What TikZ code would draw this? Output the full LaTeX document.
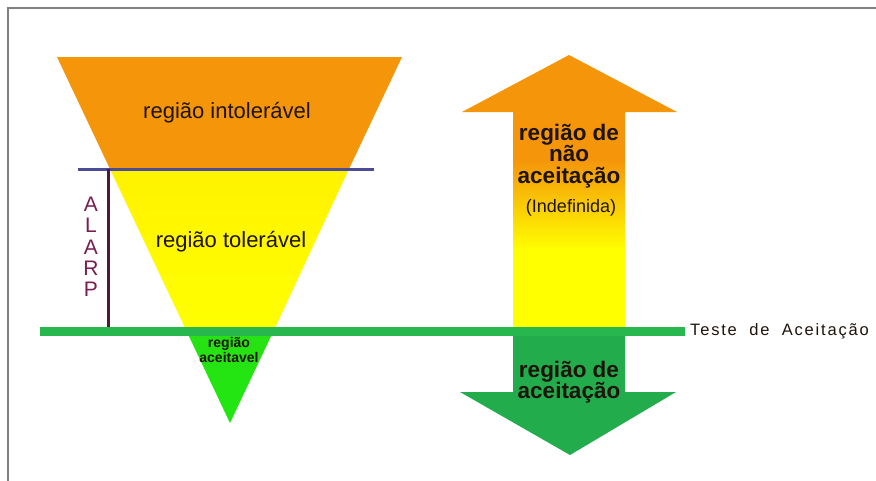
\documentclass[tikz,border=0pt]{standalone}
\usepackage{fontspec}
\setmainfont{Liberation Sans}
\definecolor{orng}{RGB}{245,150,10}
\definecolor{yel}{RGB}{255,255,0}
\definecolor{brgreen}{RGB}{40,225,20}
\definecolor{lgreen}{RGB}{40,182,78}
\definecolor{dgreen}{RGB}{34,172,76}
\definecolor{bline}{RGB}{75,75,150}
\definecolor{alarpline}{RGB}{80,25,60}
\definecolor{alarptext}{RGB}{120,30,80}
\definecolor{frame}{RGB}{128,128,128}
\definecolor{txt}{RGB}{30,20,10}
\tikzset{
  lbl/.style={text=txt, inner sep=0pt, align=center},
  bigbold/.style={lbl, font=\fontsize{22.5}{21.5}\selectfont\bfseries},
}
\begin{document}
\begin{tikzpicture}[x=1pt,y=-1pt]
\useasboundingbox (0,0) rectangle (876,480);
\fill[white] (0,0) rectangle (876,480);
% frame
\draw[frame, line width=2pt] (8,482) -- (8,8) -- (878,8);
% triangle regions
\fill[orng] (57,57) -- (402,57) -- (349,169) -- (110,169) -- cycle;
\shade[top color=yel!90!orange, bottom color=yel] (110,169) -- (349,169) -- (274,330) -- (186,330) -- cycle;
\shade[top color=brgreen, bottom color=brgreen!80!green] (186,330) -- (274,330) -- (230,423) -- cycle;
% up arrow
\fill[orng] (569,55) -- (677,112) -- (625,112) -- (625,161) -- (513,161) -- (513,112) -- (462,112) -- cycle;
\shade[top color=orng, bottom color=yel] (513,160) rectangle (625,250);
\fill[yel] (513,249) rectangle (625,331);
% down arrow
\fill[dgreen] (513,331) -- (625,331) -- (625,392) -- (676,392) -- (570,455) -- (460,392) -- (513,392) -- cycle;
% lines
\draw[bline, line width=3pt] (78,169) -- (374,169);
\draw[alarpline, line width=3pt] (108,169) -- (108,327);
\draw[lgreen, line width=9pt] (40,331) -- (685,331);
% texts
\node[lbl, font=\fontsize{22}{24}\selectfont] (intol) at (227,113) {região intolerável};
\node[lbl, font=\fontsize{22}{24}\selectfont] (tol) at (231,242) {região tolerável};
\node[lbl, font=\fontsize{14}{14.5}\selectfont\bfseries] (acv) at (229,350) {região\\aceitavel};
\node[lbl, text=alarptext, font=\fontsize{21}{21.3}\selectfont] (alarp) at (91,247) {A\\L\\A\\R\\P};
\node[bigbold] (nac) at (569,156) {região de\\não\\aceitação};
\node[lbl, font=\fontsize{18}{18}\selectfont] (indef) at (571,208) {(Indefinida)};
\node[bigbold] (ac) at (569,382) {região de\\aceitação};
\node[lbl, anchor=west, font=\fontsize{16.5}{18}\selectfont\addfontfeature{LetterSpace=11}] (teste) at (690,331) {Teste\hspace{6pt} de\hspace{6pt} Aceitação};
\end{tikzpicture}
\end{document}
